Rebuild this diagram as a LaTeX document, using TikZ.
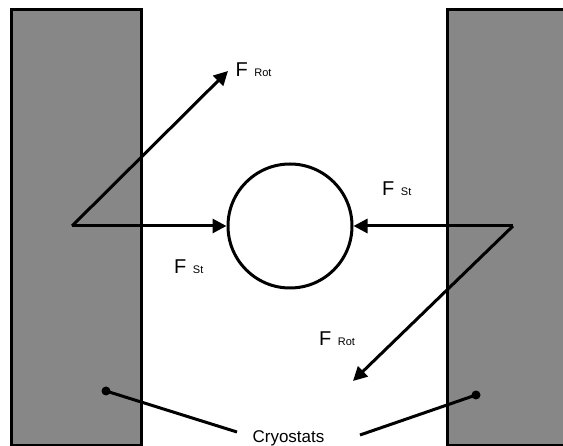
\documentclass[tikz,border=0pt]{standalone}
\usepackage{fontspec}
\setmainfont{Liberation Sans}
\usetikzlibrary{arrows.meta}
\definecolor{cryo}{RGB}{135,135,135}
\tikzset{
  wall/.style={draw=black, fill=cryo, line width=3pt, inner sep=0pt, anchor=north west},
  arr/.style={line width=3pt, -{Triangle[length=14pt,width=14pt]}},
  lead/.style={line width=3pt},
  dotnode/.style={circle, fill=black, inner sep=0pt, minimum size=9pt},
  flab/.style={inner sep=0pt, anchor=base west, font=\fontsize{20}{24}\selectfont},
}
\newcommand{\subl}[1]{\hspace{6.5pt}{\fontsize{11}{13}\selectfont #1}}
\begin{document}
\begin{tikzpicture}[x=1pt,y=-1pt]
\useasboundingbox (0,0) rectangle (563,446);
\clip (0,0) rectangle (563,446);
\node[wall, minimum width=130pt, minimum height=436pt] (lcryo) at (10,8) {};
\node[wall, minimum width=140pt, minimum height=436pt] (rcryo) at (446,8) {};
\coordinate (lv) at (72,226);
\coordinate (rv) at (513,226);
\coordinate (ftop) at (228,71);
\coordinate (fbot) at (353,381);
\node[circle, draw, line width=3pt, minimum size=124pt, inner sep=0pt] (ball) at (290,226) {};
\draw[arr] (lv) -- (ball.west);
\draw[arr] (rv) -- (ball.east);
\draw[arr] (lv) -- (ftop);
\draw[arr] (rv) -- (fbot);
\node[flab] (frot1) at (235.5,77) {F\subl{Rot}};
\node[flab] (fst1) at (174,274) {F\subl{St}};
\node[flab] (fst2) at (382,196) {F\subl{St}};
\node[flab] (frot2) at (319,346) {F\subl{Rot}};
\node[dotnode] (ldot) at (106,391) {};
\node[dotnode] (rdot) at (476,395) {};
\node[inner sep=0pt, anchor=base, font=\fontsize{17}{20}\selectfont] (cryotxt) at (288.5,443) {Cryostats};
\coordinate (lend) at (237,432);
\coordinate (rend) at (360,435);
\draw[lead] (ldot.center) -- (lend);
\draw[lead] (rdot.center) -- (rend);
\end{tikzpicture}
\end{document}
